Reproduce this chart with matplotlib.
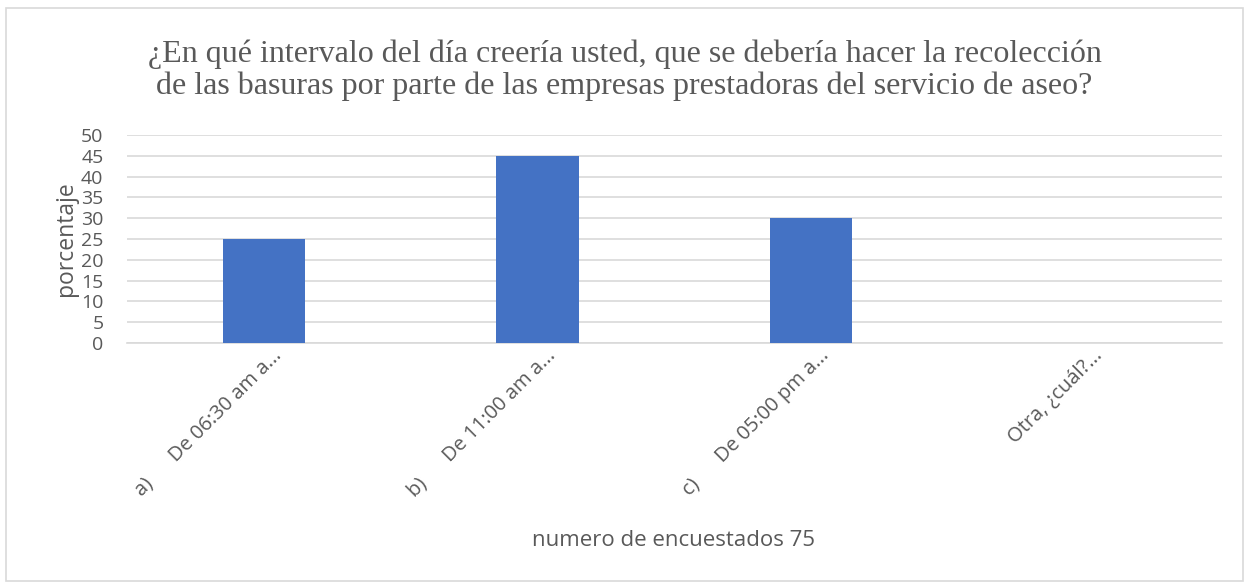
import matplotlib
matplotlib.use("Agg")
import matplotlib.pyplot as plt
import matplotlib.transforms as mtransforms
from matplotlib.patches import Rectangle

# data
categories = ["a)      De 06:30 am a...", "b)      De 11:00 am a...",
              "c)      De 05:00 pm a...", "Otra, ¿cuál?..."]
values = [25, 45, 30, 0]
yticks = list(range(0, 55, 5))

title = ("¿En qué intervalo del día creería usted, que se debería hacer la recolección\n"
         "de las basuras por parte de las empresas prestadoras del servicio de aseo?")

gray = "#595959"
plt.rcParams['font.family'] = ['Open Sans', 'DejaVu Sans']

fig = plt.figure(figsize=(12.49, 5.84), dpi=100)
ax = fig.add_axes([0.1017, 0.4127, 0.8763, 0.3561])

x = range(len(categories))
ax.bar(x, values, width=0.3, color="#4472C4", zorder=3)

ax.set_xlim(-0.5, len(categories) - 0.5)
ax.set_ylim(0, 50)
ax.set_yticks(yticks)
ax.set_yticklabels([str(v) for v in yticks], fontsize=14, color=gray)
ax.set_xticks(list(x))
ax.set_xticklabels(categories, rotation=45, ha="right", va="top",
                   rotation_mode="anchor", fontsize=14.5, color=gray)
ax.tick_params(axis="x", length=0, pad=2)
ax.tick_params(axis="y", length=0, pad=17)

# shift the rotated labels a bit to the right, like the original
shift = mtransforms.ScaledTranslation(8 / 100, 0, fig.dpi_scale_trans)
for lbl in ax.get_xticklabels():
    lbl.set_transform(lbl.get_transform() + shift)

ax.grid(axis="y", color="#d9d9d9", linewidth=1.2, zorder=0)
for s in ["top", "right", "left"]:
    ax.spines[s].set_visible(False)
ax.spines["bottom"].set_color("#d9d9d9")
ax.spines["bottom"].set_linewidth(1.2)

ax.set_ylabel("porcentaje", fontsize=16.5, color=gray, labelpad=2)
fig.text(0.539, 0.075, "numero de encuestados 75", ha="center", va="center",
         fontsize=16, color=gray)

fig.text(0.5, 0.88, title, ha="center", va="center", fontsize=23,
         family="Liberation Serif", color=gray, linespacing=1.12)

# chart area border
fig.patches.append(Rectangle((0.005, 0.005), 0.99, 0.981, transform=fig.transFigure,
                             fill=False, edgecolor="#d9d9d9", linewidth=1.2))

fig.savefig("out.png", dpi=100)
